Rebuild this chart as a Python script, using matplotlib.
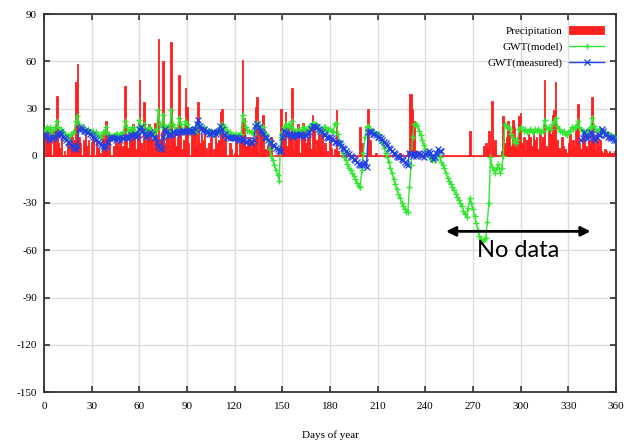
import numpy as np
import matplotlib
matplotlib.use("Agg")
import matplotlib.pyplot as plt

nan = np.nan

# daily precipitation, day 0..364
precipitation = [
    0, 16, 19, 12, 18, 0, 17, 19, 38, 8,
    5, 12, 0, 3, 0, 8, 0, 14, 12, 10,
    47, 58, 12, 8, 0, 10, 14, 6, 10, 0,
    9, 12, 0, 10, 5, 0, 2, 14, 10, 22,
    3, 10, 0, 0, 6, 12, 8, 3, 10, 6,
    6, 44, 12, 5, 15, 10, 20, 12, 4, 14,
    48, 8, 3, 34, 2, 12, 20, 18, 10, 5,
    21, 12, 74, 10, 15, 60, 8, 12, 18, 5,
    72, 10, 14, 6, 12, 51, 18, 4, 10, 43,
    31, 8, 0, 15, 12, 18, 6, 34, 8, 14,
    10, 16, 5, 0, 8, 12, 0, 4, 14, 8,
    10, 28, 30, 6, 12, 0, 0, 8, 4, 0,
    2, 14, 0, 8, 12, 61, 24, 6, 10, 12,
    4, 10, 8, 31, 37, 2, 16, 14, 26, 4,
    0, 6, 0, 12, 0, 0, 0, 0, 2, 30,
    10, 14, 28, 6, 18, 12, 43, 4, 15, 10,
    20, 2, 14, 21, 16, 8, 12, 18, 4, 26,
    20, 4, 10, 14, 6, 16, 2, 8, 3, 0,
    10, 5, 0, 4, 29, 3, 0, 0, 0, 0,
    0, 0, 0, 0, 0, 0, 0, 0, 0, 18,
    8, 0, 0, 0, 30, 10, 0, 0, 0, 2,
    0, 0, 0, 0, 0, 0, 0, 0, 0, 0,
    0, 0, 0, 0, 2, 0, 0, 0, 0, 3,
    39, 39, 30, 22, 3, 0, 0, 0, 0, 0,
    0, 0, 0, 0, 0, 0, 0, 0, 0, 0,
    0, 0, 0, 0, 0, 0, 0, 0, 0, 0,
    0, 0, 0, 0, 0, 0, 0, 0, 16, 0,
    0, 0, 0, 0, 0, 0, 0, 6, 8, 5,
    16, 0, 35, 4, 10, 0, 0, 0, 3, 25,
    8, 12, 22, 14, 6, 23, 18, 10, 4, 25,
    27, 8, 12, 4, 10, 14, 12, 6, 15, 10,
    12, 4, 16, 8, 12, 48, 6, 4, 18, 14,
    26, 29, 47, 10, 5, 3, 12, 6, 4, 2,
    8, 14, 4, 10, 6, 18, 33, 8, 4, 12,
    15, 6, 3, 10, 8, 37, 12, 4, 14, 6,
    10, 3, 2, 4, 3, 2, 3, 2, 2, 3,
    2, 3, 2, 2, 3,
]

# modelled groundwater table
gwt_model = [
    15, 17, 18, 16, 18, 14, 17, 18, 22, 18,
    16, 17, 15, 14, 12, 13, 10, 14, 15, 15,
    22, 25, 20, 18, 17, 16, 17, 16, 17, 15,
    15, 16, 14, 15, 14, 12, 12, 15, 15, 18,
    14, 14, 12, 12, 13, 14, 14, 13, 14, 14,
    15, 22, 18, 16, 16, 17, 18, 16, 14, 15,
    23, 18, 16, 20, 16, 16, 18, 17, 16, 14,
    16, 17, 29, 20, 18, 26, 18, 18, 19, 16,
    29, 20, 18, 16, 17, 24, 20, 17, 16, 22,
    20, 17, 15, 17, 16, 18, 16, 20, 18, 18,
    17, 18, 16, 15, 16, 16, 14, 14, 16, 15,
    15, 18, 20, 18, 18, 16, 15, 15, 14, 13,
    13, 14, 13, 13, 14, 26, 22, 18, 16, 16,
    15, 15, 14, 18, 21, 18, 18, 17, 18, 14,
    14, 10, 4, 0, -3, -6, -9, -12, -16, 12,
    15, 18, 20, 17, 20, 18, 22, 17, 16, 15,
    17, 15, 16, 18, 17, 16, 17, 19, 19, 21,
    20, 20, 18, 16, 17, 16, 18, 18, 16, 17,
    17, 16, 15, 20, 21, 14, 9, 6, 2, -1,
    -3, -5, -8, -9, -11, -13, -15, -17, -19, -20,
    -9, 2, 12, 18, 19, 17, 16, 15, 15, 14,
    14, 13, 10, 8, 5, 2, -1, -4, -8, -11,
    -15, -18, -21, -24, -27, -30, -32, -34, -36, -36,
    -20, -6, 12, 20, 20, 19, 16, 13, 10, 7,
    4, 2, 0, -1, -3, -2, -3, 0, 2, -1,
    -4, -6, -8, -11, -14, -16, -18, -20, -22, -24,
    -26, -28, -30, -32, -35, -37, -39, -33, -27, -30,
    -34, -38, -43, -47, -51, -53, -54, -53, -52, -42,
    -30, -1, -7, -9, -11, -8, -5, -11, -8, 0,
    20, 19, 18, 17, 14, 11, 9, 8, 10, 17,
    18, 17, 16, 17, 15, 16, 17, 16, 15, 17,
    16, 17, 16, 15, 16, 23, 18, 17, 18, 17,
    20, 22, 24, 19, 17, 16, 15, 16, 14, 13,
    15, 16, 18, 17, 18, 19, 22, 18, 17, 16,
    15, 14, 16, 17, 18, 24, 19, 17, 16, 17,
    16, 15, 16, 15, 14, 14, 13, 13, 12, 12,
    11, 11, 10, 10, 10,
]

# measured groundwater table (no data from day 251 to 337)
gwt_measured = [
    14, 13, 12, 11, 10, 11, 12, 12, 13, 14,
    15, 14, 12, 11, 10, 9, 8, 7, 6, 5,
    4, 6, 17, 18, 17, 16, 16, 15, 15, 14,
    13, 12, 11, 10, 9, 8, 7, 6, 5, 6,
    9, 11, 12, 11, 11, 10, 11, 11, 10, 11,
    11, 12, 12, 11, 12, 13, 13, 14, 12, 13,
    17, 18, 16, 14, 12, 13, 14, 15, 14, 12,
    11, 9, 6, 5, 4, 12, 17, 15, 13, 13,
    14, 15, 15, 14, 15, 16, 15, 16, 16, 15,
    16, 17, 16, 15, 16, 17, 20, 23, 19, 17,
    16, 17, 16, 15, 14, 14, 15, 15, 14, 15,
    16, 19, 17, 14, 13, 12, 12, 11, 12, 11,
    11, 12, 11, 10, 10, 11, 10, 9, 9, 10,
    9, 8, 10, 19, 20, 18, 16, 15, 14, 12,
    11, 10, 9, 8, 7, 6, 5, 4, 3, 3,
    12, 16, 15, 14, 14, 13, 13, 12, 13, 14,
    13, 14, 13, 12, 13, 13, 14, 15, 17, 19,
    19, 18, 18, 17, 16, 15, 14, 13, 12, 11,
    12, 11, 10, 9, 9, 8, 8, 6, 5, 4,
    3, 2, 1, 0, -1, -2, -3, -4, -5, -6,
    -6, -5, -4, -7, 15, 16, 15, 14, 14, 13,
    12, 12, 11, 10, 9, 8, 7, 5, 4, 3,
    2, 1, 0, -1, -1, -2, -3, -4, -5, -6,
    2, 1, 0, 1, 0, 1, 2, 1, 0, -1,
    1, 2, 3, 2, 0, -2, -1, 2, 4, 3,
    3] + [nan] * 87 + [
    10, 11, 15, 13, 11, 12, 15, 14, 11, 10, 12, 13,
    13, 17, 16, 14, 13, 12, 12, 11, 11, 10,
    10, 9, 9, 9, 8,
]

x_ticks = list(range(0, 361, 30))
y_ticks = list(range(-150, 91, 30))

RED = "#ff2020"
GREEN = "#33e633"
BLUE = "#2040e6"


def main():
    plt.rcParams["font.family"] = ["Liberation Serif", "DejaVu Serif"]
    plt.rcParams["axes.unicode_minus"] = False
    days = np.arange(len(precipitation))

    fig = plt.figure(figsize=(6.24, 4.41), dpi=100)
    ax = fig.add_axes([44 / 624, 1 - 392 / 441, 572 / 624, 378 / 441])

    ax.grid(True, color="#dcdcdc", lw=1.0, zorder=0)
    ax.set_axisbelow(True)

    bars = ax.bar(days, precipitation, width=1.0, color=RED, edgecolor=RED,
                  lw=0.6, zorder=2, label="Precipitation")
    ax.axhline(0, color=RED, lw=1.2, zorder=2)
    model_line, = ax.plot(days, gwt_model, color=GREEN, lw=1.0, marker="+",
                          ms=5, mew=1.0, zorder=3, label="GWT(model)")
    meas_line, = ax.plot(days, gwt_measured, color=BLUE, lw=1.0, marker="x",
                         ms=4.2, mew=0.9, zorder=4, label="GWT(measured)")

    ax.set_xlim(0, 360)
    ax.set_ylim(-150, 90)
    ax.set_xticks(x_ticks)
    ax.set_yticks(y_ticks)
    ax.tick_params(direction="in", length=4, width=1.2, labelsize=8,
                   top=True, right=True, color="#333333")
    ax.tick_params(axis="x", pad=7)
    ax.tick_params(axis="y", pad=5)
    for s in ax.spines.values():
        s.set_color("#333333")
        s.set_linewidth(1.3)

    ax.set_xlabel("Days of year", fontsize=8, labelpad=14)

    ax.legend([bars, model_line, meas_line],
              ["Precipitation", "GWT(model)", "GWT(measured)"],
              loc="upper right", frameon=False, markerfirst=False,
              fontsize=8, handlelength=3.1, handletextpad=0.6,
              labelspacing=0.55, borderaxespad=0.7)

    # no measured data annotation
    ax.annotate("", xy=(344, -48), xytext=(253, -48),
                arrowprops=dict(arrowstyle="<|-|>", lw=2, color="black",
                                mutation_scale=14, shrinkA=0, shrinkB=0),
                zorder=6)
    ax.text(298.5, -64.5, "No data", fontsize=17, family="Lato",
            ha="center", va="baseline", zorder=6)

    fig.savefig("out.png", dpi=100)


if __name__ == "__main__":
    main()
